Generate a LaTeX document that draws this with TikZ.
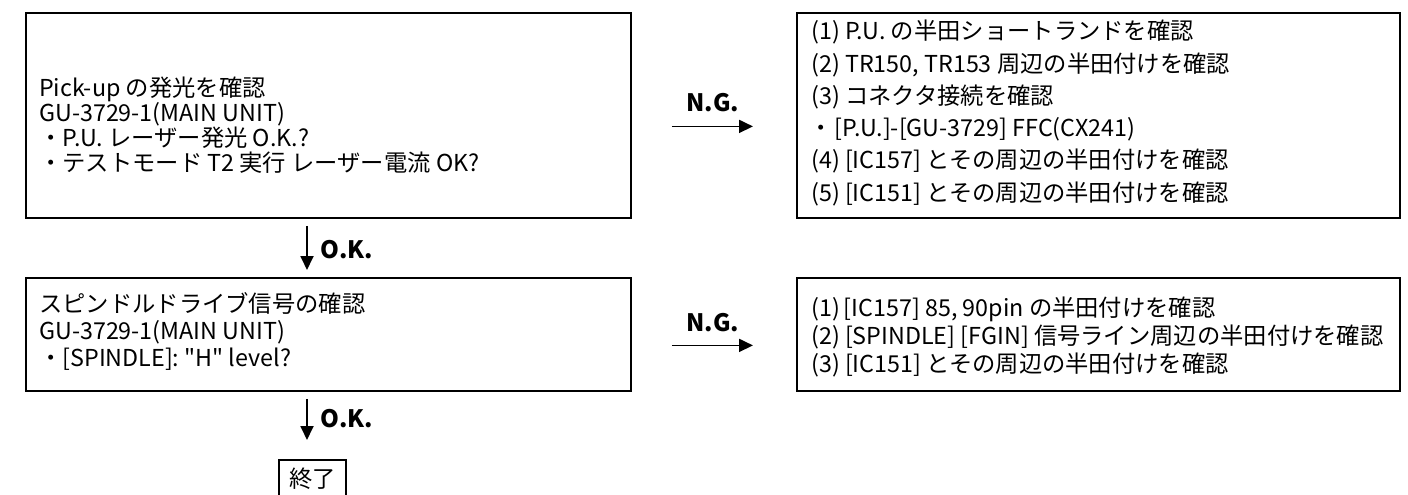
\documentclass[tikz,border=0pt]{standalone}
\usepackage{fontspec}
\setmainfont{Noto Sans CJK JP}[Ligatures=TeXOff]
\usetikzlibrary{arrows.meta}
\begin{document}
\begin{tikzpicture}[x=1pt,y=-1pt,
  box/.style={draw=black, line width=1.8pt, anchor=north west, inner sep=0pt},
  txt/.style={anchor=base west, inner sep=0pt, font=\fontsize{23.3}{23.3}\selectfont},
  tag/.style={inner sep=0pt, font=\fontsize{24}{24}\selectfont\bfseries},
  flow/.style={line width=1.8pt, -{Triangle[length=14pt,width=13pt]}}]
\useasboundingbox (0,0) rectangle (1408,495);
\pgfmathsetmacro\tight{25}
\pgfmathsetmacro\loose{32.2}
\node[box, minimum width=605pt, minimum height=205pt] (pickup) at (25,12) {};
\node[box, minimum width=605pt, minimum height=113pt] (spindle) at (25,277) {};
\node[box, minimum width=603pt, minimum height=205pt] (fixpu) at (796,12) {};
\node[box, minimum width=603pt, minimum height=113pt] (fixsp) at (796,277) {};
\node[box, minimum width=67pt, minimum height=38pt, font=\fontsize{23.3}{23.3}\selectfont] (done) at (278,459) {終了};
\coordinate (axis) at (307,0);
\foreach \t [count=\i] in {Pick-up の発光を確認, GU-3729-1(MAIN UNIT), ・P.U. レーザー発光 O.K.?, ・テストモード T2 実行 レーザー電流 OK?}
  \node[txt] (pickup-\i) at (39,96+\tight*\i-\tight) {\t};
\foreach \t [count=\i] in {(1) P.U. の半田ショートランドを確認, {(2) TR150, TR153 周辺の半田付けを確認}, (3) コネクタ接続を確認, \hspace{-2pt}・\hspace{2pt}[P.U.]-[GU-3729] FFC(CX241), (4) [IC157] とその周辺の半田付けを確認, (5) [IC151] とその周辺の半田付けを確認}
  \node[txt] (fixpu-\i) at (811,40+\loose*\i-\loose) {\t};
\foreach \t [count=\i] in {スピンドルドライブ信号の確認, GU-3729-1(MAIN UNIT), {・[SPINDLE]: "H" level?}}
  \node[txt] (spindle-\i) at (39,312+27*\i-27) {\t};
\foreach \t [count=\i] in {{(1)\hspace{4pt}[IC157] 85, 90pin の半田付けを確認}, (2) [SPINDLE] [FGIN] 信号ライン周辺の半田付けを確認, (3) [IC151] とその周辺の半田付けを確認}
  \node[txt] (fixsp-\i) at (811,316+28*\i-28) {\t};
\draw[flow, shorten <=40pt, shorten >=43pt] ([yshift=-11pt]pickup.east) -- ([yshift=-11pt]fixpu.west);
\draw[flow, shorten <=40pt, shorten >=43pt] ([yshift=-11pt]spindle.east) -- ([yshift=-11pt]fixsp.west);
\draw[flow, shorten <=7pt, shorten >=7pt] (pickup.south -| axis) -- (spindle.north -| axis);
\draw[flow, shorten <=7pt, shorten >=19pt] (spindle.south -| axis) -- (done.north -| axis);
\node[tag] (ng1) at (713,103) {N.G.};
\node[tag] (ng2) at (713,323) {N.G.};
\node[tag, anchor=west] (ok1) at (320,250) {O.K.};
\node[tag, anchor=west] (ok2) at (320,419) {O.K.};
\end{tikzpicture}
\end{document}
